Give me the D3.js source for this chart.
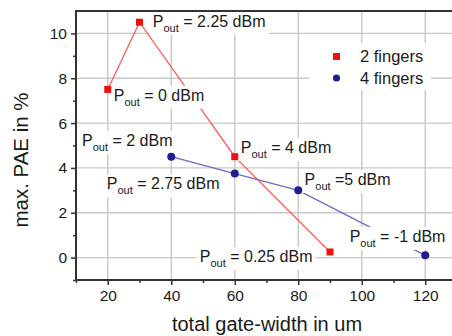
<!DOCTYPE html>
<html>
<head>
<meta charset="utf-8">
<script src="https://cdn.jsdelivr.net/npm/d3@7"></script>
<style>
  html, body { margin: 0; padding: 0; background: #fff; }
  svg { display: block; font-family: "Liberation Sans", Arial, sans-serif; }
</style>
</head>
<body>
<div id="chart"></div>
<script>
// data
const widths2 = [20, 30, 60, 90];
const pae2 = [7.5, 10.5, 4.5, 0.25];
const widths4 = [40, 60, 80, 120];
const pae4 = [4.5, 3.75, 3.0, 0.1];

const xTicks = [20, 40, 60, 80, 100, 120];
const xMinor = [10, 30, 50, 70, 90, 110];
const yTicks = [0, 2, 4, 6, 8, 10];
const yMinor = [-1, 1, 3, 5, 7, 9];

const seriesNames = ["2 fingers", "4 fingers"];

// annotations: [x, y] in data units (left edge of "P", baseline), then text after the subscript
const annoText = [" = 2.25 dBm", " = 0 dBm", " = 2 dBm", " = 2.75 dBm", " = 4 dBm", " =5 dBm", " = -1 dBm", " = 0.25 dBm"];
const annoX = [34.2, 21.9, 11.9, 19.7, 61.9, 82.0, 96.2, 49.0];
const annoY = [10.3, 7.0, 4.98, 3.04, 4.67, 3.24, 0.70, -0.20];

const W = 452, H = 336;
const plot = { left: 76, top: 11, right: 457, bottom: 280 };

const svg = d3.select("#chart").append("svg")
  .attr("width", W)
  .attr("height", H);

const x = d3.scaleLinear().domain([10, 130]).range([plot.left, plot.right]);
const y = d3.scaleLinear().domain([-1, 11]).range([plot.bottom, plot.top]);

// grid
const grid = svg.append("g").attr("stroke", "#c8c8c8").attr("stroke-width", 1.4);
grid.selectAll(".gx").data(xTicks).join("line")
  .attr("x1", d => x(d)).attr("x2", d => x(d))
  .attr("y1", plot.top).attr("y2", plot.bottom);
grid.selectAll(".gy").data(yTicks).join("line")
  .attr("x1", plot.left).attr("x2", plot.right)
  .attr("y1", d => y(d)).attr("y2", d => y(d));

// lines
const line = d3.line().x(d => x(d[0])).y(d => y(d[1]));
const pts2 = widths2.map((w, i) => [w, pae2[i]]);
const pts4 = widths4.map((w, i) => [w, pae4[i]]);

svg.append("path")
  .attr("fill", "none")
  .attr("stroke", "#ff5c5c")
  .attr("stroke-width", 1.3)
  .attr("d", line(pts2));

svg.append("path")
  .attr("fill", "none")
  .attr("stroke", "#6a6ac8")
  .attr("stroke-width", 1.3)
  .attr("d", line(pts4));

// annotations with white backing
const annos = svg.append("g")
  .style("font-size", "16px")
  .style("fill", "#1a1a1a");

annoText.forEach((t, i) => {
  const g = annos.append("g");
  const bg = g.append("rect").attr("fill", "#fff");
  const txt = g.append("text")
    .attr("x", x(annoX[i]))
    .attr("y", y(annoY[i]));
  txt.append("tspan").text("P");
  txt.append("tspan").attr("dy", 5).style("font-size", "11px").text("out");
  txt.append("tspan").attr("dy", -5).text(t);
  const b = txt.node().getBBox();
  bg.attr("x", b.x - 3).attr("y", b.y - 1)
    .attr("width", b.width + 6).attr("height", b.height + 2);
});

// markers
svg.append("g").selectAll("rect").data(pts2).join("rect")
  .attr("x", d => x(d[0]) - 3.5)
  .attr("y", d => y(d[1]) - 3.5)
  .attr("width", 7).attr("height", 7)
  .attr("fill", "#ee1111");

svg.append("g").selectAll("circle").data(pts4).join("circle")
  .attr("cx", d => x(d[0]))
  .attr("cy", d => y(d[1]))
  .attr("r", 4)
  .attr("fill", "#1e1e8e");

// legend
const legend = svg.append("g").attr("transform", `translate(${plot.left + 233},43)`);
legend.append("rect")
  .attr("width", 122).attr("height", 47)
  .attr("fill", "#fff");
legend.append("rect")
  .attr("x", 24).attr("y", 10)
  .attr("width", 7).attr("height", 7)
  .attr("fill", "#ee1111");
legend.append("circle")
  .attr("cx", 27.5).attr("cy", 35)
  .attr("r", 3.6)
  .attr("fill", "#1e1e8e");
legend.selectAll("text").data(seriesNames).join("text")
  .attr("x", 51)
  .attr("y", (d, i) => 19 + i * 21.5)
  .style("font-size", "16.5px")
  .style("fill", "#1a1a1a")
  .text(d => d);

// axes
const axisColor = "#333";
function styleAxis(g) {
  g.select(".domain").remove();
  g.selectAll("line").attr("stroke", axisColor).attr("stroke-width", 1.5);
  g.selectAll("text").style("font-size", "15.5px").style("fill", "#1a1a1a")
    .style("font-family", "'Liberation Sans', Arial, sans-serif");
}

svg.append("g")
  .attr("transform", `translate(0,${plot.bottom})`)
  .call(d3.axisBottom(x).tickValues(xTicks).tickSize(5).tickPadding(5))
  .call(styleAxis);
svg.append("g")
  .attr("transform", `translate(0,${plot.bottom})`)
  .call(d3.axisBottom(x).tickValues(xMinor).tickSize(3).tickFormat(""))
  .call(styleAxis);

svg.append("g")
  .attr("transform", `translate(${plot.left},0)`)
  .call(d3.axisLeft(y).tickValues(yTicks).tickSize(5).tickPadding(4))
  .call(styleAxis);
svg.append("g")
  .attr("transform", `translate(${plot.left},0)`)
  .call(d3.axisLeft(y).tickValues(yMinor).tickSize(3).tickFormat(""))
  .call(styleAxis);

// frame: left, bottom, top
svg.append("path")
  .attr("fill", "none")
  .attr("stroke", axisColor)
  .attr("stroke-width", 2)
  .attr("d", `M${plot.right},${plot.top}H${plot.left}V${plot.bottom}H${plot.right}`);

// axis titles
svg.append("text")
  .attr("x", 267)
  .attr("y", 331)
  .attr("text-anchor", "middle")
  .style("font-size", "20px")
  .style("fill", "#1a1a1a")
  .text("total gate-width in um");

svg.append("text")
  .attr("transform", "translate(28,160) rotate(-90)")
  .attr("text-anchor", "middle")
  .style("font-size", "20.5px")
  .style("fill", "#1a1a1a")
  .text("max. PAE in %");
</script>
</body>
</html>
